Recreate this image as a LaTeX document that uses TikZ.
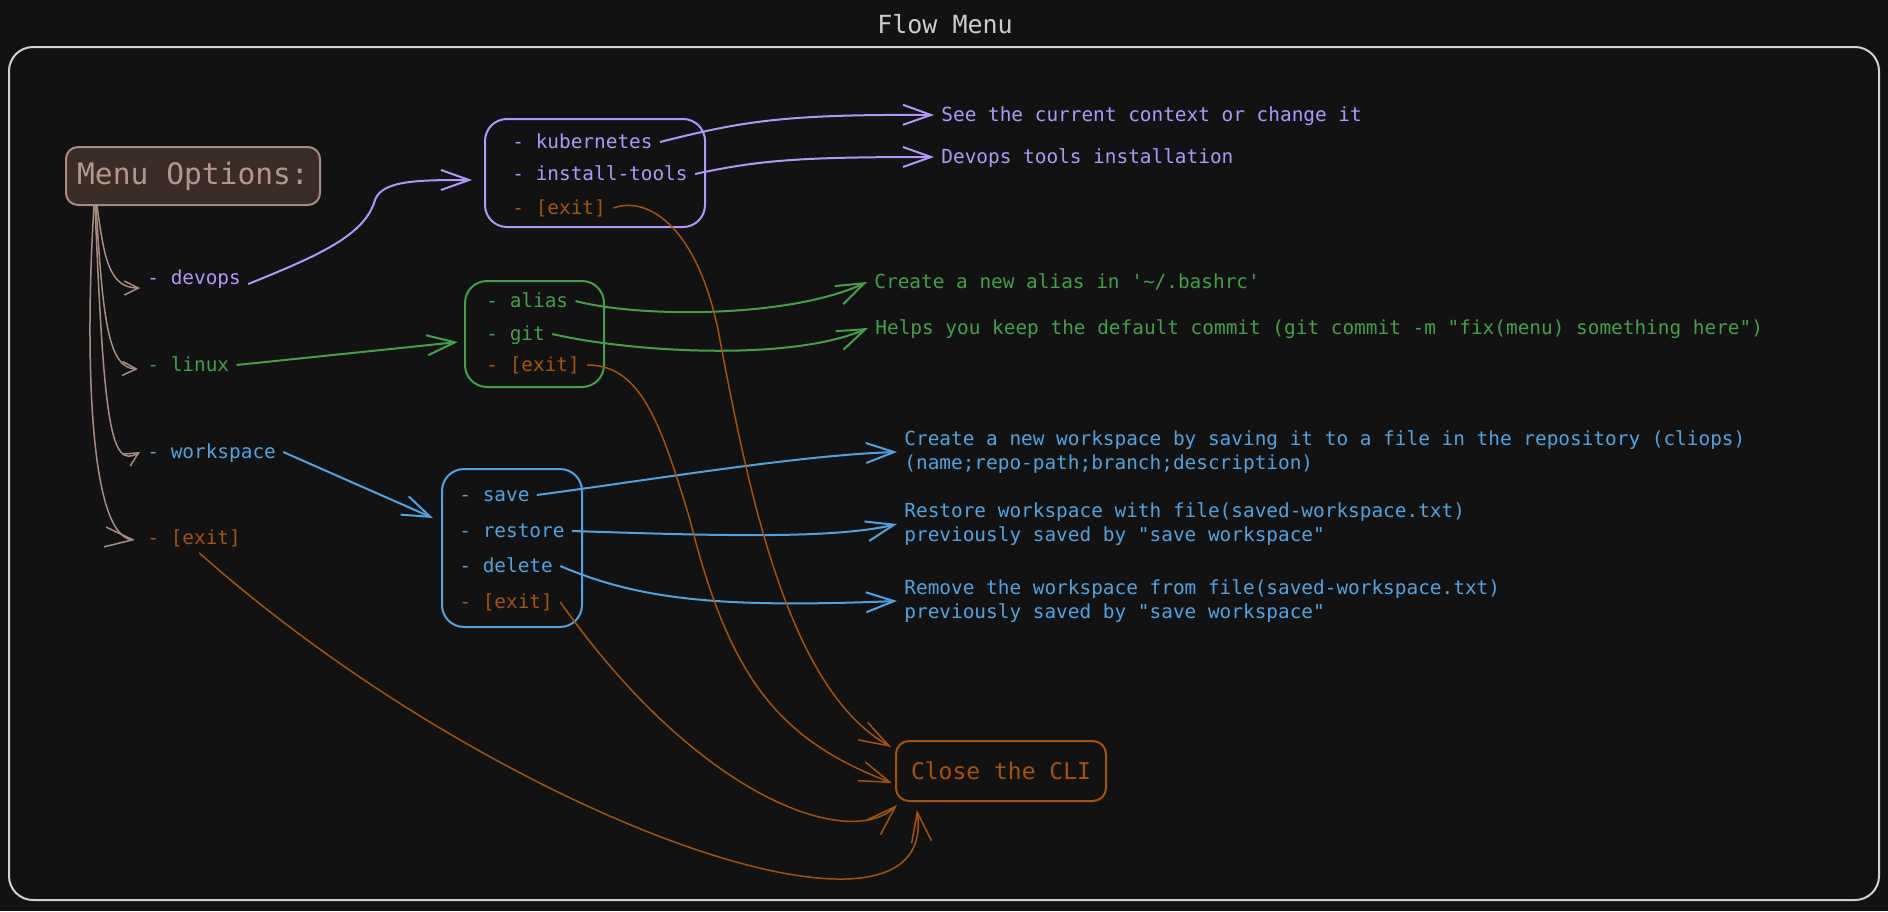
\documentclass[tikz,border=0pt]{standalone}
\usepackage{fontspec}
\setmonofont{DejaVu Sans Mono}
\usepackage{tikz}
\usetikzlibrary{arrows.meta,positioning}

\definecolor{bgc}{HTML}{121212}
\definecolor{framec}{HTML}{D2D2D2}
\definecolor{titlec}{HTML}{CCCCCC}
\definecolor{tanline}{HTML}{A88C81}
\definecolor{tantext}{HTML}{B3978C}
\definecolor{tanfill}{HTML}{3A2C27}
\definecolor{purp}{HTML}{B197FC}
\definecolor{grn}{HTML}{41A048}
\definecolor{blu}{HTML}{4FA3E3}
\definecolor{orng}{HTML}{A6520A}

\begin{document}
\begin{tikzpicture}[x=0.5pt,y=-0.5pt,
  item/.style={anchor=west,inner xsep=3.5pt,inner ysep=0pt,text height=7.2pt,text depth=1.2pt,
    font=\ttfamily\fontsize{9.7}{12}\selectfont},
  desc/.style={anchor=west,inner xsep=3.5pt,inner ysep=0pt,align=left,
    font=\ttfamily\fontsize{9.7}{12}\selectfont},
  grp/.style={draw,rounded corners=11pt,line width=1pt},
  link/.style={line width=1pt,-{Straight Barb[length=14pt,width=10pt]}},
  exitlink/.style={orng,line width=0.75pt,-{Straight Barb[length=15pt,width=10pt]}},
  menulink/.style={tanline,line width=0.75pt,-{Straight Barb[length=7pt,width=7pt]}}]

  % Background and frame
  \fill[bgc] (0,0) rectangle (1888,911);
  \useasboundingbox (0,0) rectangle (1888,911);
  \draw[framec,line width=1pt,rounded corners=12pt] (9,47) rectangle (1879,900);
  \node[text=titlec,font=\ttfamily\fontsize{12.5}{15}\selectfont] (title) at (945,24) {Flow Menu};

  % Menu options
  \node[draw=tanline,fill=tanfill,text=tantext,rounded corners=6pt,line width=1pt,
    minimum width=127pt,minimum height=29pt,font=\ttfamily\fontsize{14.8}{17}\selectfont]
    (menu) at (193,176) {Menu Options:};
  \node[item,text=purp] (devops) at (140,278) {- devops};
  \node[item,text=grn] (linux) at (140,365) {- linux};
  \node[item,text=blu] (workspace) at (140,452) {- workspace};
  \node[item,text=orng] (exitM) at (140,538) {- [exit]};

  % Sub menus
  \node[grp,draw=purp,minimum width=110pt,minimum height=54pt] (devbox) at (595,173) {};
  \node[item,text=purp] (kube) at (505,142) {- kubernetes};
  \node[item,text=purp] (tools) at (505,174) {- install-tools};
  \node[item,text=orng] (exitD) at (505,208) {- [exit]};

  \node[grp,draw=grn,minimum width=69.5pt,minimum height=53pt] (linuxbox) at (534.5,334) {};
  \node[item,text=grn] (alias) at (479,301) {- alias};
  \node[item,text=grn] (git) at (479,334) {- git};
  \node[item,text=orng] (exitL) at (479,365) {- [exit]};

  \node[grp,draw=blu,minimum width=70pt,minimum height=79pt] (wsbox) at (512,548) {};
  \node[item,text=blu] (save) at (452,495) {- save};
  \node[item,text=blu] (restore) at (452,531) {- restore};
  \node[item,text=blu] (delete) at (452,566) {- delete};
  \node[item,text=orng] (exitW) at (452,602) {- [exit]};

  % Descriptions
  \node[item,text=purp] (seeCtx) at (934,115) {See the current context or change it};
  \node[item,text=purp] (devTools) at (934,157) {Devops tools installation};
  \node[item,text=grn] (aliasDesc) at (867,282) {Create a new alias in '\string~/.bashrc'};
  \node[item,text=grn] (gitDesc) at (868,328) {Helps you keep the default commit (git commit -m "fix(menu) something here")};
  \node[desc,text=blu] (saveDesc) at (897,452) {Create a new workspace by saving it to a file in the repository (cliops)\\(name;repo-path;branch;description)};
  \node[desc,text=blu] (restoreDesc) at (897,524) {Restore workspace with file(saved-workspace.txt)\\previously saved by "save workspace"};
  \node[desc,text=blu] (removeDesc) at (897,601) {Remove the workspace from file(saved-workspace.txt)\\previously saved by "save workspace"};

  \node[draw=orng,text=orng,rounded corners=6.5pt,line width=1pt,minimum width=105pt,minimum height=30pt,
    font=\ttfamily\fontsize{11.5}{14}\selectfont] (close) at (1001,771) {Close the CLI};

  % Menu to options
  \draw[menulink] ([xshift=16pt]menu.south west) .. controls (104,255) and (108,288) .. ([yshift=-5pt]devops.west);
  \draw[menulink] ([xshift=15.5pt]menu.south west) .. controls (103,320) and (108,368) .. ([xshift=-1pt,yshift=-2pt]linux.west);
  \draw[menulink] ([xshift=15pt]menu.south west) .. controls (104,420) and (110,470) .. (workspace.west);
  \draw[menulink,-{Straight Barb[length=14pt,width=10pt]}] ([xshift=14.5pt]menu.south west) .. controls (86,330) and (86,535) .. ([xshift=-2.5pt,yshift=-1pt]exitM.west);

  % Options to sub menus
  \draw[link,purp] ([yshift=-3pt]devops.east) .. controls (320,255) and (365,235) .. (375,200)
    .. controls (382,180) and (420,180) .. ([xshift=-6pt,yshift=-3.5pt]devbox.west);
  \draw[link,grn] (linux.east) -- ([xshift=-3pt,yshift=-4pt]linuxbox.west);
  \draw[link,blu] (workspace.east) -- ([xshift=-4pt,yshift=15pt]wsbox.west);

  % Sub menus to descriptions
  \draw[link,purp] (kube.east) .. controls (740,122) and (780,114) .. (seeCtx.west);
  \draw[link,purp] (tools.east) .. controls (760,160) and (800,157) .. (devTools.west);
  \draw[link,grn] (alias.east) .. controls (640,318) and (790,318) .. (aliasDesc.west);
  \draw[link,grn] (git.east) .. controls (630,352) and (790,362) .. (gitDesc.west);
  \draw[link,blu] (save.east) .. controls (650,480) and (800,455) .. (saveDesc.west);
  \draw[link,blu] (restore.east) .. controls (700,535) and (830,540) .. (restoreDesc.west);
  \draw[link,blu] (delete.east) .. controls (640,600) and (720,608) .. (removeDesc.west);

  % Exits
  \draw[exitlink] (exitD.east) .. controls (650,195) and (700,230) .. (720,340)
    .. controls (750,500) and (790,690) .. ([xshift=-2pt,yshift=-3.5pt]close.north west);
  \draw[exitlink] (exitL.east) .. controls (640,365) and (660,420) .. (690,520)
    .. controls (730,680) and (780,740) .. ([xshift=-1.5pt,yshift=-6pt]close.west);
  \draw[exitlink] (exitW.east) .. controls (700,800) and (850,850) .. ([xshift=1pt,yshift=-1.5pt]close.south west);
  \draw[exitlink] ([xshift=2.5pt,yshift=-3pt]exitM.south) .. controls (500,820) and (940,975) .. ([xshift=11pt,yshift=-4pt]close.south west);
\end{tikzpicture}
\end{document}
